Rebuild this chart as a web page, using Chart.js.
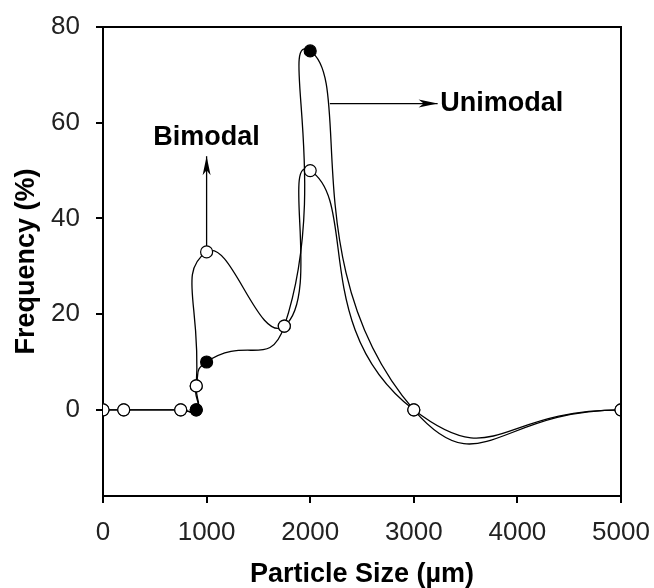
<!DOCTYPE html>
<html>
<head>
<meta charset="utf-8">
<title>Particle size distribution</title>
<script src="https://cdn.jsdelivr.net/npm/chart.js@4.4.0/dist/chart.umd.min.js"></script>
<style>
  html, body { margin: 0; padding: 0; background: #fff; }
  #wrap { width: 654px; height: 588px; }
</style>
</head>
<body>
<div id="wrap"><canvas id="sizeChart" width="654" height="588"></canvas></div>
<script>
// particle size (µm) and frequency (%) of the two distributions
const sizes    = [0, 200, 750, 900, 900, 1000, 1750, 2000, 3000, 5000];
const bimodal  = [0, 0, 0, 0, 5, 33, 17.5, 50, 0, 0];
const unimodal = [0, 0, 0, 0, 5, 10, 17.5, 75, 0, 0];
// points of the unimodal run drawn as solid dots
const solidMarks = [3, 5, 7];

const xTicks = [0, 1000, 2000, 3000, 4000, 5000];
const yTicks = [0, 20, 40, 60, 80];

// arrow callouts, in data units
const callouts = [
  { text: 'Bimodal',  from: [1000, 33], to: [1000, 53], at: [1000, 57], align: 'center' },
  { text: 'Unimodal', from: [2190, 64], to: [3230, 64], at: [3255, 64], align: 'left' }
];

const FONT = "'Liberation Sans', Arial, sans-serif";
const TENSION = 0.6;

function toPoints(ys) {
  return sizes.map((x, i) => ({ x: x, y: ys[i] }));
}

function drawArrow(ctx, x0, y0, x1, y1) {
  const ang = Math.atan2(y1 - y0, x1 - x0);
  ctx.beginPath();
  ctx.moveTo(x0, y0);
  ctx.lineTo(x1, y1);
  ctx.stroke();
  ctx.save();
  ctx.translate(x1, y1);
  ctx.rotate(ang);
  ctx.beginPath();
  ctx.moveTo(0, 0);
  ctx.lineTo(-19, -4);
  ctx.lineTo(-14, 0);
  ctx.lineTo(-19, 4);
  ctx.closePath();
  ctx.fill();
  ctx.restore();
}

// frame on top/right, arrows under the markers, labels last
const framePlugin = {
  id: 'frame',
  beforeDatasetsDraw(chart) {
    const { ctx, scales: { x, y } } = chart;
    ctx.save();
    ctx.strokeStyle = '#000';
    ctx.fillStyle = '#000';
    ctx.lineWidth = 1.3;
    callouts.forEach(c => {
      drawArrow(ctx,
        x.getPixelForValue(c.from[0]), y.getPixelForValue(c.from[1]),
        x.getPixelForValue(c.to[0]), y.getPixelForValue(c.to[1]));
    });
    ctx.restore();
  },
  afterDraw(chart) {
    const { ctx, chartArea: a, scales: { x, y } } = chart;
    ctx.save();
    ctx.strokeStyle = '#000';
    ctx.lineWidth = 2;
    ctx.beginPath();
    ctx.moveTo(a.left, a.top);
    ctx.lineTo(a.right, a.top);
    ctx.lineTo(a.right, a.bottom);
    ctx.stroke();

    ctx.fillStyle = '#000';
    ctx.font = 'bold 27px ' + FONT;
    ctx.textBaseline = 'middle';
    callouts.forEach(c => {
      ctx.textAlign = c.align;
      ctx.fillText(c.text, x.getPixelForValue(c.at[0]), y.getPixelForValue(c.at[1]));
    });
    ctx.restore();
  }
};

new Chart(document.getElementById('sizeChart'), {
  type: 'scatter',
  data: {
    datasets: [
      {
        label: 'Bimodal',
        data: toPoints(bimodal),
        showLine: true,
        tension: TENSION,
        borderColor: '#000',
        borderWidth: 1.3,
        pointRadius: 6,
        pointBorderWidth: 1.2,
        pointBorderColor: '#000',
        pointBackgroundColor: '#fff',
        order: 2
      },
      {
        label: 'Unimodal',
        data: toPoints(unimodal),
        showLine: true,
        tension: TENSION,
        borderColor: '#000',
        borderWidth: 1.3,
        pointRadius: 6,
        pointBorderWidth: 1.2,
        pointBorderColor: '#000',
        pointBackgroundColor: ctx => solidMarks.includes(ctx.dataIndex) ? '#000' : '#fff',
        order: 1
      }
    ]
  },
  options: {
    responsive: false,
    animation: false,
    devicePixelRatio: 1,
    layout: { padding: { top: 27, right: 33, left: 0, bottom: 0 } },
    plugins: { legend: { display: false }, tooltip: { enabled: false } },
    scales: {
      x: {
        type: 'linear',
        min: 0,
        max: 5000,
        afterBuildTicks: s => { s.ticks = xTicks.map(v => ({ value: v })); },
        afterFit: s => { s.height = 92; s.paddingLeft = 0; s.paddingRight = 0; },
        border: { color: '#000', width: 2 },
        grid: { display: true, drawOnChartArea: false, drawTicks: true, tickLength: 7, color: '#000', lineWidth: 2 },
        ticks: {
          color: '#222',
          font: { family: FONT, size: 26 },
          padding: 14,
          maxRotation: 0,
          callback: v => String(v)
        },
        title: {
          display: true,
          text: 'Particle Size (µm)',
          color: '#000',
          font: { family: FONT, size: 27, weight: 'bold', lineHeight: 1 },
          padding: { top: 0, bottom: 0 }
        }
      },
      y: {
        type: 'linear',
        min: -18,
        max: 80,
        afterBuildTicks: s => { s.ticks = yTicks.map(v => ({ value: v })); },
        afterFit: s => { s.width = 103; s.paddingTop = 0; s.paddingBottom = 0; },
        border: { color: '#000', width: 2 },
        grid: { display: true, drawOnChartArea: false, drawTicks: true, tickLength: 7, color: '#000', lineWidth: 2 },
        ticks: { color: '#222', font: { family: FONT, size: 26 }, padding: 16 },
        title: {
          display: true,
          text: 'Frequency (%)',
          color: '#000',
          font: { family: FONT, size: 27, weight: 'bold', lineHeight: 1 },
          padding: { top: 13, bottom: 0 }
        }
      }
    }
  },
  plugins: [framePlugin]
});
</script>
</body>
</html>
